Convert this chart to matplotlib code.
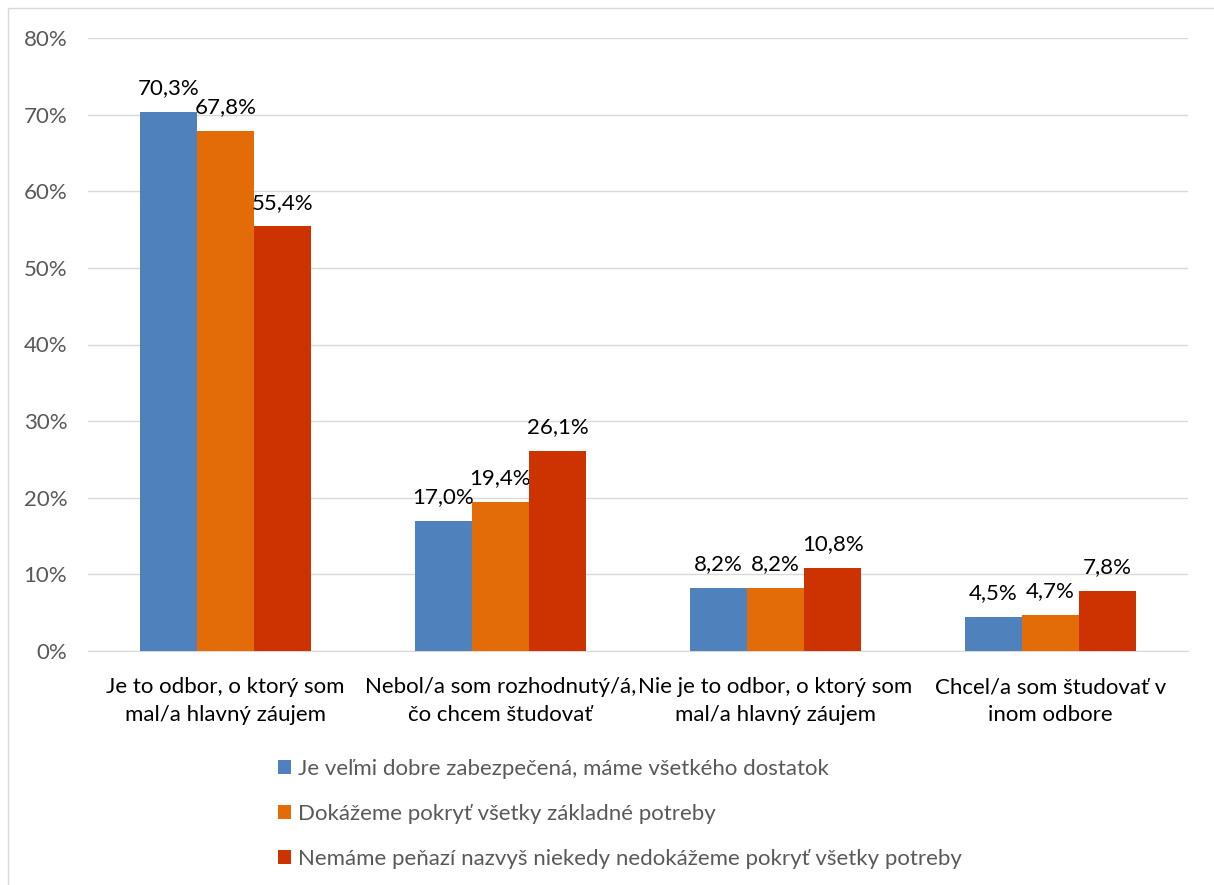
import matplotlib
matplotlib.use("Agg")
import matplotlib.pyplot as plt
import numpy as np
from matplotlib.patches import Rectangle

categories = [
    "Je to odbor, o ktorý som\nmal/a hlavný záujem",
    "Nebol/a som rozhodnutý/á,\nčo chcem študovať",
    "Nie je to odbor, o ktorý som\nmal/a hlavný záujem",
    "Chcel/a som študovať v\ninom odbore",
]
series_names = [
    "Je veľmi dobre zabezpečená, máme všetkého dostatok",
    "Dokážeme pokryť všetky základné potreby",
    "Nemáme peňazí nazvyš niekedy nedokážeme pokryť všetky potreby",
]
values_good = [70.3, 17.0, 8.2, 4.5]
values_basic = [67.8, 19.4, 8.2, 4.7]
values_poor = [55.4, 26.1, 10.8, 7.8]
y_ticks = [0, 10, 20, 30, 40, 50, 60, 70, 80]

colors = ["#4F81BD", "#E36C09", "#CC3300"]
plt.rcParams["font.family"] = ["Lato", "DejaVu Sans"]
FONT_SIZE = 16

figure = plt.figure(figsize=(12.14, 8.85), dpi=100, facecolor="white")
figure.patches.append(
    Rectangle((8 / 1214, -0.1), 1.2, 1 - 8 / 885 + 0.1, transform=figure.transFigure,
              fill=False, edgecolor="#d9d9d9", linewidth=1.0)
)
axis = figure.add_axes([88 / 1214, 1 - 651 / 885, 1100 / 1214, 613 / 885])

x = np.arange(len(categories))
width = 0.208
for index, (values, name) in enumerate(zip([values_good, values_basic, values_poor], series_names)):
    positions = x + (index - 1) * width
    bars = axis.bar(positions, values, width=width, color=colors[index], label=name, zorder=3)
    for bar, value in zip(bars, values):
        axis.annotate(
            f"{value:.1f}%".replace(".", ","),
            (bar.get_x() + bar.get_width() / 2, value),
            xytext=(0, 10), textcoords="offset points",
            ha="center", va="bottom", fontsize=FONT_SIZE, color="black",
        )

axis.set_xlim(-0.5, 3.5)
axis.set_ylim(0, 80)
axis.set_yticks(y_ticks)
axis.set_yticklabels([f"{t}%" for t in y_ticks], fontsize=FONT_SIZE, color="#595959")
axis.set_xticks(x)
axis.set_xticklabels(categories, fontsize=FONT_SIZE, color="black", linespacing=1.45)
axis.tick_params(axis="x", length=0, pad=19)
axis.tick_params(axis="y", length=0, pad=15)
axis.grid(axis="y", color="#d9d9d9", linewidth=1.0, zorder=0)
for side in ("top", "right", "left"):
    axis.spines[side].set_visible(False)
axis.spines["bottom"].set_color("#d9d9d9")

legend = figure.legend(
    loc="upper left", bbox_to_anchor=(260 / 1214, 1 - 741 / 885),
    frameon=False, fontsize=FONT_SIZE, ncol=1, handlelength=0.6, handleheight=0.6,
    handletextpad=0.3, labelspacing=1.12, labelcolor="#595959", borderpad=0.3,
)

figure.savefig("out.png", dpi=100, facecolor="white")
